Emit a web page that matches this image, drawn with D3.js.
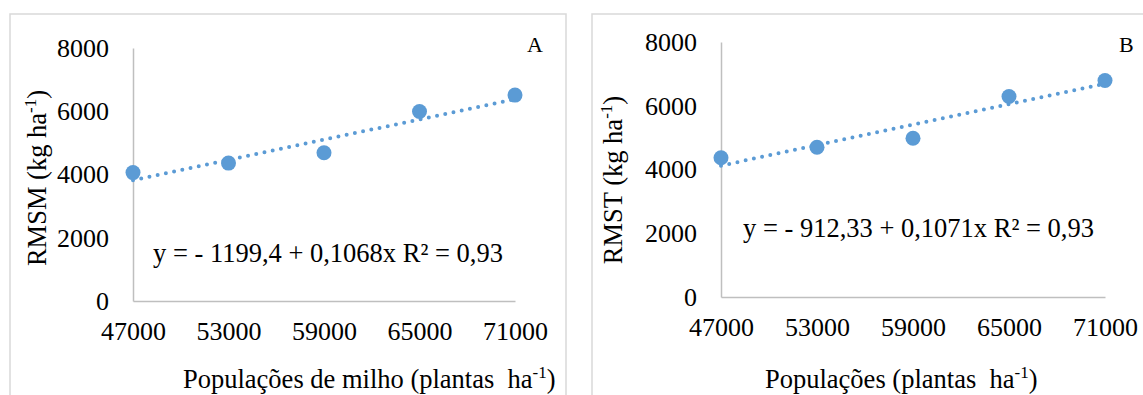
<!DOCTYPE html>
<html>
<head>
<meta charset="utf-8">
<script src="https://cdn.jsdelivr.net/npm/d3@7"></script>
<style>
  body { margin: 0; background: #fff; }
  svg text { font-family: "Liberation Serif", "Times New Roman", serif; fill: #000; white-space: pre; }
</style>
</head>
<body>
<div id="chart"></div>
<script>
// data
const populacoes = [47000, 53000, 59000, 65000, 71000];
const rmsm = [4060, 4360, 4690, 5990, 6510];
const rmst = [4370, 4700, 4980, 6290, 6790];
const yTicks = [0, 2000, 4000, 6000, 8000];
// trendline coefficients shown on the chart
const coefA = [-1199.4, 0.1068];
const coefB = [-912.33, 0.1071];

const W = 1143, H = 395;
const svg = d3.select('#chart').append('svg')
  .attr('width', W).attr('height', H);

const panels = [
  { frame: [10, 14, 566], x: [133, 515], y: [301, 48], values: rmsm, coef: coefA,
    ylab: 'RMSM (kg ha', ylabX: 46, ylabY: 178,
    xlab: 'Populações de milho (plantas  ha', xlabX: 183,
    eq: 'y = - 1199,4 + 0,1068x R² = 0,93', eqX: 153, eqY: 262,
    tag: 'A', tagX: 527 },
  { frame: [592, 14, 1160], x: [721, 1105], y: [297, 42], values: rmst, coef: coefB,
    ylab: 'RMST (kg ha', ylabX: 622, ylabY: 180,
    xlab: 'Populações (plantas  ha', xlabX: 765,
    eq: 'y = - 912,33 + 0,1071x R² = 0,93', eqX: 743, eqY: 237,
    tag: 'B', tagX: 1119 }
];

const blue = '#5b9bd5';

panels.forEach(p => {
  const g = svg.append('g');

  // outer frame (bottom runs off the picture)
  g.append('path')
    .attr('d', `M${p.frame[0]},${H + 5}V${p.frame[1]}H${p.frame[2]}V${H + 5}`)
    .attr('fill', 'none').attr('stroke', '#d9d9d9').attr('stroke-width', 1.5);

  const sx = d3.scaleLinear().domain([47000, 71000]).range(p.x);
  const sy = d3.scaleLinear().domain([0, 8000]).range(p.y);

  const xaxis = g.append('g')
    .attr('transform', 'translate(0,' + p.y[0] + ')')
    .call(d3.axisBottom(sx).tickValues(populacoes).tickFormat(d3.format('d'))
      .tickSize(0).tickPadding(21));
  const yaxis = g.append('g')
    .attr('transform', 'translate(' + p.x[0] + ',0)')
    .call(d3.axisLeft(sy).tickValues(yTicks).tickFormat(d3.format('d'))
      .tickSize(0).tickPadding(24));

  [xaxis, yaxis].forEach(a => {
    a.select('.domain').attr('stroke', '#bfbfbf').attr('stroke-width', 1.5);
    a.selectAll('text').style('font-family', '"Liberation Serif", serif')
      .style('font-size', '26px').attr('fill', '#000');
  });

  // trendline
  const trend = [47000, 71000].map(x => [x, p.coef[0] + p.coef[1] * x]);
  g.append('path')
    .datum(trend)
    .attr('fill', 'none')
    .attr('stroke', blue)
    .attr('stroke-width', 4)
    .attr('stroke-linecap', 'round')
    .attr('stroke-dasharray', '0 8.4')
    .attr('d', d3.line().x(d => sx(d[0])).y(d => sy(d[1])));

  // markers
  g.selectAll('circle.pt')
    .data(populacoes)
    .enter().append('circle')
    .attr('class', 'pt')
    .attr('cx', d => sx(d))
    .attr('cy', (d, i) => sy(p.values[i]))
    .attr('r', 7.5)
    .attr('fill', blue);

  // y title
  const yt = g.append('text')
    .attr('transform', `translate(${p.ylabX},${p.ylabY}) rotate(-90)`)
    .attr('text-anchor', 'middle')
    .style('font-size', '26.5px');
  yt.append('tspan').text(p.ylab);
  yt.append('tspan').attr('dy', -10).style('font-size', '17px').text('-1');
  yt.append('tspan').attr('dy', 10).text(')');

  // x title
  const xt = g.append('text')
    .attr('x', p.xlabX).attr('y', 388)
    .style('font-size', '26.5px');
  xt.append('tspan').text(p.xlab);
  xt.append('tspan').attr('dy', -10).style('font-size', '17px').text('-1');
  xt.append('tspan').attr('dy', 10).text(')');

  // equation
  g.append('text')
    .attr('x', p.eqX).attr('y', p.eqY)
    .style('font-size', '26.5px')
    .text(p.eq);

  // panel tag
  g.append('text')
    .attr('x', p.tagX).attr('y', 52)
    .style('font-size', '22px')
    .text(p.tag);
});
</script>
</body>
</html>
